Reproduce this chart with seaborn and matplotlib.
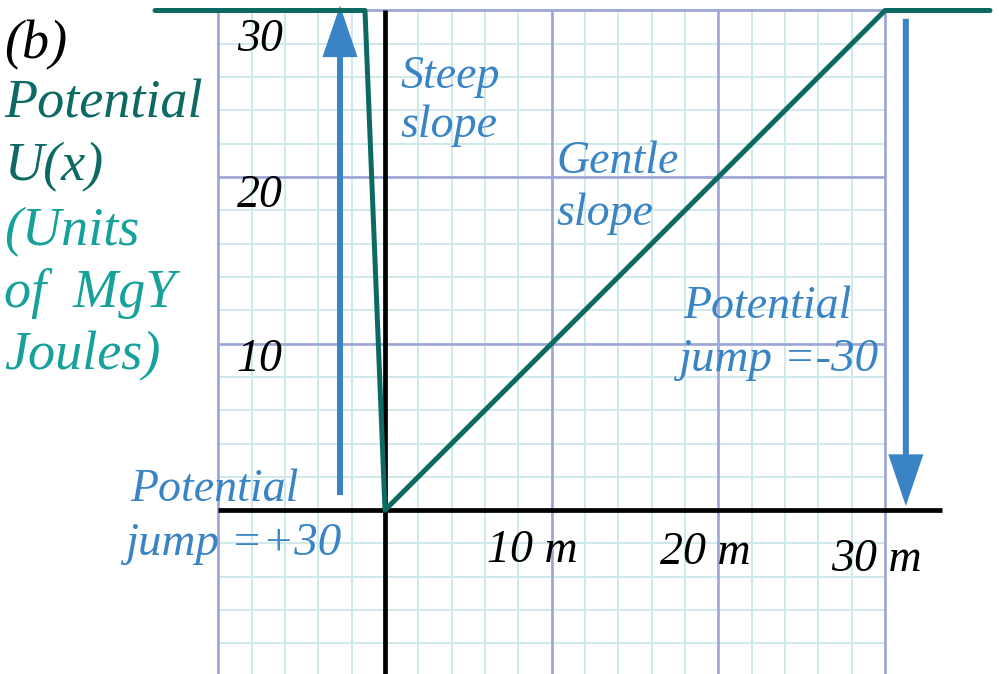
import numpy as np
import matplotlib
matplotlib.use("Agg")
import matplotlib.pyplot as plt
import seaborn as sns

# Potential energy profile U(x): flat, steep drop, gentle ramp, flat
potential_x = [-13.8, -1.2, 0.0, 30.0, 36.3]
potential_u = [30.0, 30.0, 0.0, 30.0, 30.0]

# Grid extents (metres / MgY joules)
grid_x_min, grid_x_max = -10, 30
grid_y_min, grid_y_max = -10, 30
minor_step = 2
major_x = [-10, 10, 20, 30]
major_y = [10, 20, 30]

# Tick labels
y_tick_values = [30, 20, 10]
y_tick_labels = ["30", "20", "10"]
x_tick_values = [10, 20, 30]
x_tick_labels = ["10 m", "20 m", "30 m"]

# Potential jumps shown by arrows: (x position, start U, end U)
jump_up = (-2.7, 0.9, 30.3)
jump_down = (31.25, 29.5, 0.25)

sns.set_theme(style="white")
plt.rcParams["font.family"] = ["Liberation Serif", "DejaVu Serif"]

teal_dark = "#0c6a62"
teal_light = "#17a19b"
blue = "#3a84c6"
major_col = "#9ca5d5"
minor_col = "#cfe9ea"

fig = plt.figure(figsize=(9.99, 6.74), dpi=100)
ax = fig.add_axes([0, 0, 1, 1])
ax.set_xlim(-23.1, 36.84)
ax.set_ylim(-9.84, 30.63)
ax.axis("off")

# Minor grid
minor = np.arange(grid_x_min, grid_x_max + 0.1, minor_step)
ax.vlines(minor, grid_y_min, grid_y_max, colors=minor_col, lw=1.4, zorder=1)
minor_y = np.arange(grid_y_min, grid_y_max + 0.1, minor_step)
ax.hlines(minor_y, grid_x_min, grid_x_max, colors=minor_col, lw=1.4, zorder=1)
# Major grid
ax.vlines(major_x, grid_y_min, grid_y_max, colors=major_col, lw=1.9, zorder=2)
ax.hlines(major_y, grid_x_min, grid_x_max, colors=major_col, lw=1.9, zorder=2)

# Axes
ax.plot([grid_x_min, 33.4], [0, 0], color="black", lw=3.4, zorder=3,
        solid_capstyle="butt")
ax.plot([0, 0], [grid_y_min, grid_y_max], color="black", lw=3.4, zorder=3,
        solid_capstyle="butt")

# Potential curve
sns.lineplot(x=potential_x, y=potential_u, sort=False, color=teal_dark,
             lw=3.6, ax=ax, zorder=5)

# Jump arrows
for xa, y0, y1 in (jump_up, jump_down):
    ax.arrow(xa, y0, 0, y1 - y0, width=0.36, head_width=2.1, head_length=3.1,
             length_includes_head=True, color=blue, lw=0, zorder=4)

fs = 33
# Tick labels
y_label_pos = [28.25, 18.85, 9.05]
for yy, t in zip(y_label_pos, y_tick_labels):
    ax.text(-8.9, yy, t, fontsize=fs, style="italic", color="black",
            ha="left", va="center", zorder=6)
x_label_pos = [(6.1, -2.45), (16.5, -2.55), (26.75, -2.95)]
for (xx, yy), t in zip(x_label_pos, x_tick_labels):
    ax.text(xx, yy, t, fontsize=fs, style="italic", color="black",
            ha="left", va="center", zorder=6)

# Annotations
def label(x, y, s, color, size=fs):
    ax.text(x, y, s, fontsize=size, style="italic", color=color,
            ha="left", va="center", zorder=6)

label(0.9, 26.05, "Steep", blue)
label(0.9, 23.05, "slope", blue)
label(10.3, 20.9, "Gentle", blue)
label(10.3, 17.8, "slope", blue)
label(17.9, 12.2, "Potential", blue)
label(17.6, 9.0, "jump =-30", blue, 33.8)
label(-15.3, 1.2, "Potential", blue)
label(-15.6, -2.0, "jump =+30", blue, 33.8)

left_fs = 39
label(-22.85, 27.95, "(b)", "black", left_fs)
label(-22.85, 24.4, "Potential", teal_dark, left_fs)
label(-22.85, 20.6, "U(x)", teal_dark, left_fs)
label(-22.85, 16.7, "(Units", teal_light, left_fs)
label(-22.85, 13.0, "of  MgY", teal_light, left_fs)
label(-22.85, 9.25, "Joules)", teal_light, left_fs)

fig.savefig("out.png", dpi=100)
